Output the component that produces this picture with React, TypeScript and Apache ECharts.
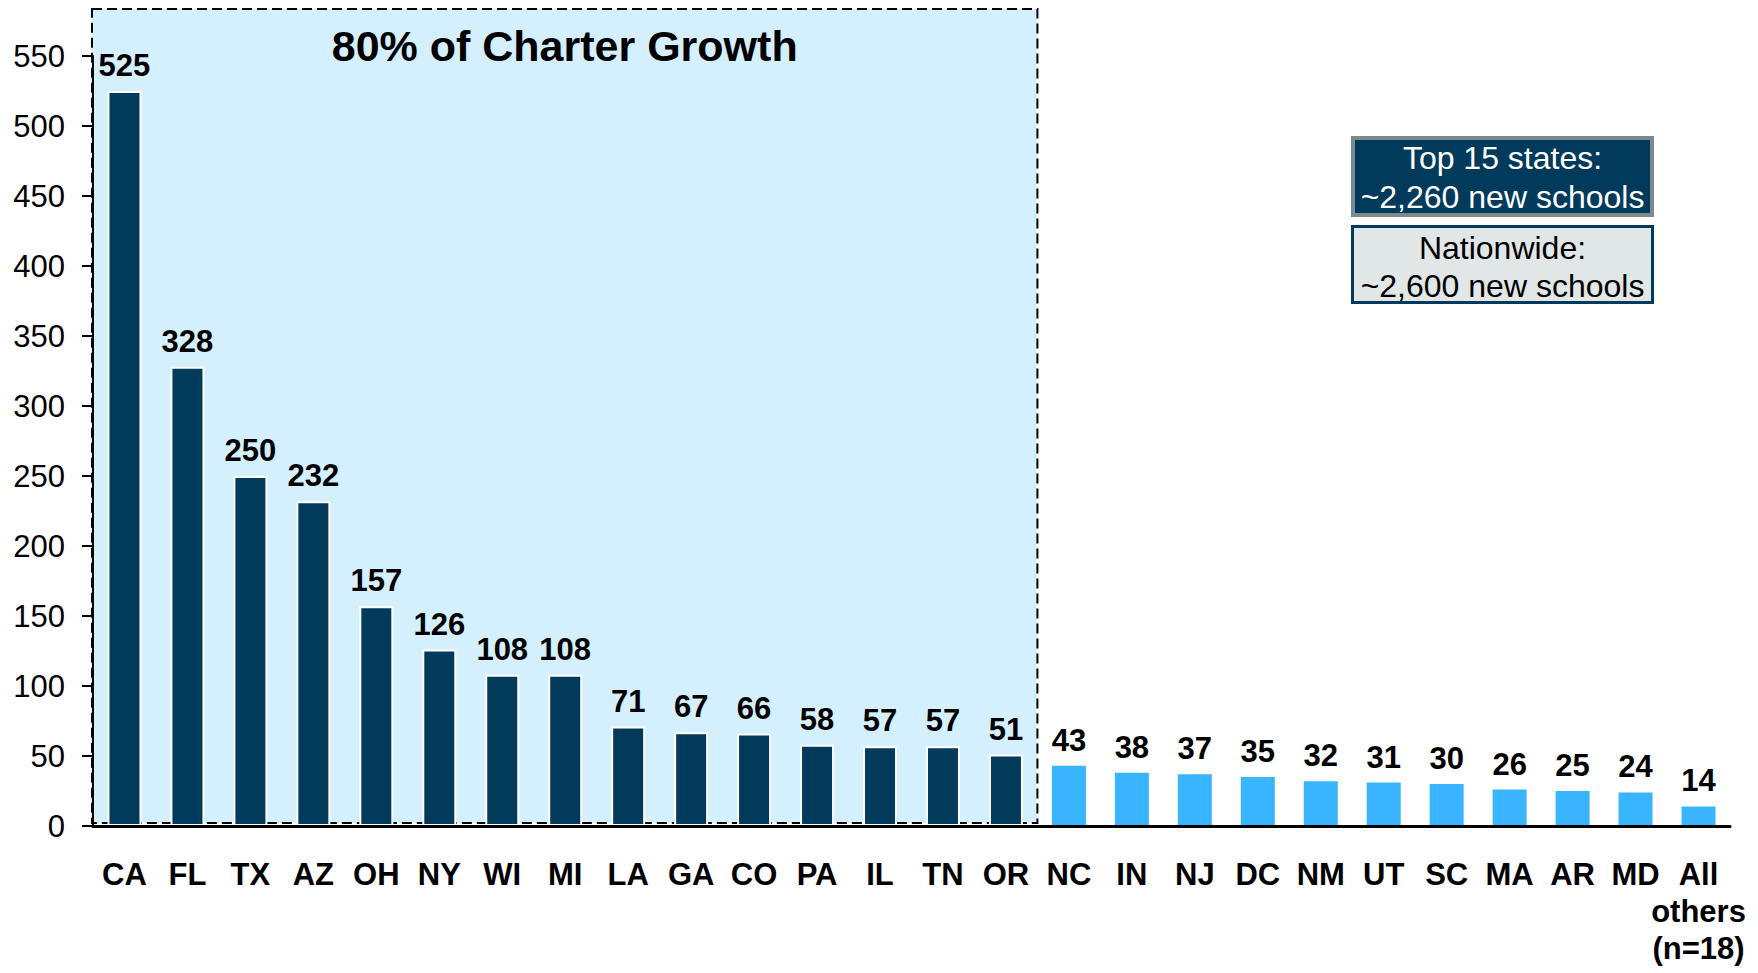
import React, { useEffect, useRef } from "react";
import * as echarts from "echarts";

const states = ["CA", "FL", "TX", "AZ", "OH", "NY", "WI", "MI", "LA", "GA", "CO", "PA", "IL", "TN", "OR", "NC", "IN", "NJ", "DC", "NM", "UT", "SC", "MA", "AR", "MD", "All\nothers\n(n=18)"];
const newSchools = [525, 328, 250, 232, 157, 126, 108, 108, 71, 67, 66, 58, 57, 57, 51, 43, 38, 37, 35, 32, 31, 30, 26, 25, 24, 14];
const topCount = 15;
const yTicks = { min: 0, max: 550, interval: 50 };
const boxTitle = "80% of Charter Growth";
const topBoxLines = ["Top 15 states:", "~2,260 new schools"];
const nationBoxLines = ["Nationwide:", "~2,600 new schools"];

const FONT = "'Liberation Sans', Arial, Helvetica, sans-serif";
const NAVY = "#023a5c";
const LIGHT = "#38b5fe";
const AREA = "#d4effd";

export default function App() {
  const ref = useRef<HTMLDivElement>(null);
  useEffect(() => {
    if (!ref.current) return;
    const chart = echarts.init(ref.current, null, { renderer: "svg" });
    const option: any = {
      animation: false,
      backgroundColor: "#ffffff",
      grid: { left: 93, right: 28, top: 56, bottom: 147, containLabel: false },
      xAxis: {
        type: "category",
        data: states,
        axisLine: { lineStyle: { color: "#000", width: 3 } },
        axisTick: { show: false },
        axisLabel: {
          interval: 0,
          margin: 30,
          fontFamily: FONT,
          fontSize: 31,
          fontWeight: "bold",
          color: "#000",
          lineHeight: 37,
        },
        z: 3,
      },
      yAxis: {
        type: "value",
        min: yTicks.min,
        max: yTicks.max,
        interval: yTicks.interval,
        splitLine: { show: false },
        axisLine: { show: true, lineStyle: { color: "#000", width: 2 } },
        axisTick: { show: true, inside: false, length: 11, lineStyle: { color: "#000", width: 2 } },
        axisLabel: { margin: 28, fontFamily: FONT, fontSize: 31, color: "#000" },
        z: 3,
      },
      series: [
        {
          type: "bar",
          barWidth: "54%",
          z: 2,
          data: newSchools.map((v, i) => ({
            value: v,
            itemStyle:
              i < topCount
                ? { color: NAVY, borderColor: "#ffffff", borderWidth: 2 }
                : { color: LIGHT, borderWidth: 0 },
          })),
          label: {
            show: true,
            position: "top",
            distance: 10,
            fontFamily: FONT,
            fontSize: 31,
            fontWeight: "bold",
            color: "#000",
          },
        },
      ],
    };
    chart.setOption(option);

    const p0 = chart.convertToPixel({ seriesIndex: 0 }, [0, 0]) as number[];
    const p1 = chart.convertToPixel({ seriesIndex: 0 }, [1, 0]) as number[];
    const pLast = chart.convertToPixel({ seriesIndex: 0 }, [topCount - 1, 0]) as number[];
    const pTop = chart.convertToPixel({ seriesIndex: 0 }, [0, yTicks.max]) as number[];
    const band = p1[0] - p0[0];
    const left = p0[0] - band / 2 - 1;
    const right = pLast[0] + band / 2;
    const top = pTop[1] - 47;
    const bottom = p0[1] - 3;

    chart.setOption({
      graphic: [
        {
          type: "rect",
          z: -1,
          silent: true,
          shape: { x: left, y: top, width: right - left, height: bottom - top },
          style: { fill: AREA, stroke: "#000", lineWidth: 2, lineDash: [10, 5] },
        },
        {
          type: "text",
          z: 5,
          silent: true,
          style: {
            text: boxTitle,
            x: (left + right) / 2,
            y: top + 37,
            textAlign: "center",
            align: "center",
            textVerticalAlign: "middle",
            verticalAlign: "middle",
            fontFamily: FONT,
            fontSize: 43,
            fontWeight: "bold",
            fill: "#000",
          },
        },
        {
          type: "rect",
          z: 5,
          silent: true,
          shape: { x: 1353, y: 138, width: 299, height: 77 },
          style: { fill: NAVY, stroke: "#7b8b8c", lineWidth: 4 },
        },
        {
          type: "text",
          z: 6,
          silent: true,
          style: {
            text: topBoxLines.join("\n"),
            x: 1502.5,
            y: 177.5,
            textAlign: "center",
            align: "center",
            textVerticalAlign: "middle",
            verticalAlign: "middle",
            fontFamily: FONT,
            fontSize: 32,
            lineHeight: 39,
            fill: "#ffffff",
          },
        },
        {
          type: "rect",
          z: 5,
          silent: true,
          shape: { x: 1352.5, y: 226.5, width: 300, height: 76 },
          style: { fill: "#e1e6e6", stroke: NAVY, lineWidth: 3 },
        },
        {
          type: "text",
          z: 6,
          silent: true,
          style: {
            text: nationBoxLines.join("\n"),
            x: 1502.5,
            y: 266.5,
            textAlign: "center",
            align: "center",
            textVerticalAlign: "middle",
            verticalAlign: "middle",
            fontFamily: FONT,
            fontSize: 32,
            lineHeight: 38,
            fill: "#000000",
          },
        },
      ],
    });

    return () => chart.dispose();
  }, []);

  return (
    <div
      ref={ref}
      style={{ position: "fixed", left: 0, top: 0, width: 1758, height: 973, background: "#fff" }}
    />
  );
}
